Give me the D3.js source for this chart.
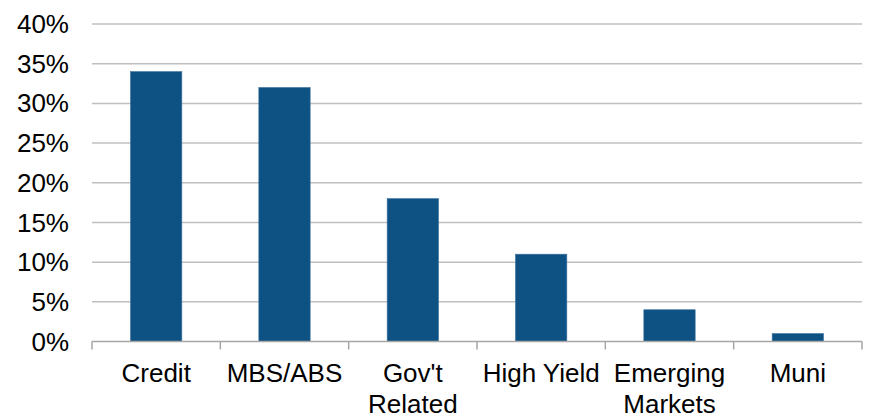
<!DOCTYPE html>
<html>
<head>
<meta charset="utf-8">
<script src="https://cdn.jsdelivr.net/npm/d3@7"></script>
<style>
  body { margin: 0; background: #fff; }
  text { font-family: Arial, "Liberation Sans", sans-serif; fill: #000; }
</style>
</head>
<body>
<script>
var categories = ["Credit", "MBS/ABS", "Gov't\nRelated", "High Yield", "Emerging\nMarkets", "Muni"];
var values = [34, 32, 18, 11, 4, 1];
var yTicks = [0, 5, 10, 15, 20, 25, 30, 35, 40];

var width = 874, height = 419,
    margins = {top: 24, right: 12, bottom: 77.5, left: 92};

var svg = d3.select('body')
  .append('svg')
  .attr('width', width)
  .attr('height', height);

var x = d3.scaleBand()
  .domain(categories)
  .range([margins.left, width - margins.right])
  .paddingInner(0.6)
  .paddingOuter(0.3);

var xEdges = d3.scaleLinear()
  .domain([0, categories.length])
  .range([margins.left, width - margins.right]);

var y = d3.scaleLinear()
  .domain([0, 40])
  .range([height - margins.bottom, margins.top]);

// gridlines
svg.append('g')
  .selectAll('line')
  .data(yTicks.slice(1))
  .enter()
  .append('line')
  .attr('x1', margins.left)
  .attr('x2', width - margins.right)
  .attr('y1', function(d) { return y(d); })
  .attr('y2', function(d) { return y(d); })
  .attr('stroke', '#c0c0c0')
  .attr('stroke-width', 1.5);

// y labels
svg.append('g')
  .selectAll('text')
  .data(yTicks)
  .enter()
  .append('text')
  .attr('x', 69)
  .attr('y', function(d) { return y(d); })
  .attr('dy', '0.35em')
  .attr('text-anchor', 'end')
  .style('font-size', '26px')
  .text(function(d) { return d + '%'; });

// bars
svg.append('g')
  .selectAll('rect')
  .data(values)
  .enter()
  .append('rect')
  .attr('x', function(d, i) { return x(categories[i]); })
  .attr('y', function(d) { return y(d); })
  .attr('width', x.bandwidth())
  .attr('height', function(d) { return y(0) - y(d); })
  .attr('fill', '#0e5183')
  .attr('stroke', '#3a71a0')
  .attr('stroke-width', 0.6);

// x axis line and ticks
var axis = svg.append('g');
axis.append('line')
  .attr('x1', margins.left)
  .attr('x2', width - margins.right)
  .attr('y1', y(0))
  .attr('y2', y(0))
  .attr('stroke', '#a6a6a6')
  .attr('stroke-width', 1.5);

axis.selectAll('.tick')
  .data(d3.range(categories.length + 1))
  .enter()
  .append('line')
  .attr('class', 'tick')
  .attr('x1', function(d) { return xEdges(d); })
  .attr('x2', function(d) { return xEdges(d); })
  .attr('y1', y(0))
  .attr('y2', y(0) + 8)
  .attr('stroke', '#a6a6a6')
  .attr('stroke-width', 1.5);

// x labels
var labels = svg.append('g')
  .selectAll('text')
  .data(categories)
  .enter()
  .append('text')
  .attr('text-anchor', 'middle')
  .style('font-size', '26px')
  .attr('transform', function(d) {
    return 'translate(' + (x(d) + x.bandwidth() / 2) + ',' + (y(0) + 40.5) + ')';
  });

labels.selectAll('tspan')
  .data(function(d) { return d.split('\n'); })
  .enter()
  .append('tspan')
  .attr('x', 0)
  .attr('y', function(d, i) { return i * 30.6; })
  .text(function(d) { return d; });
</script>
</body>
</html>
